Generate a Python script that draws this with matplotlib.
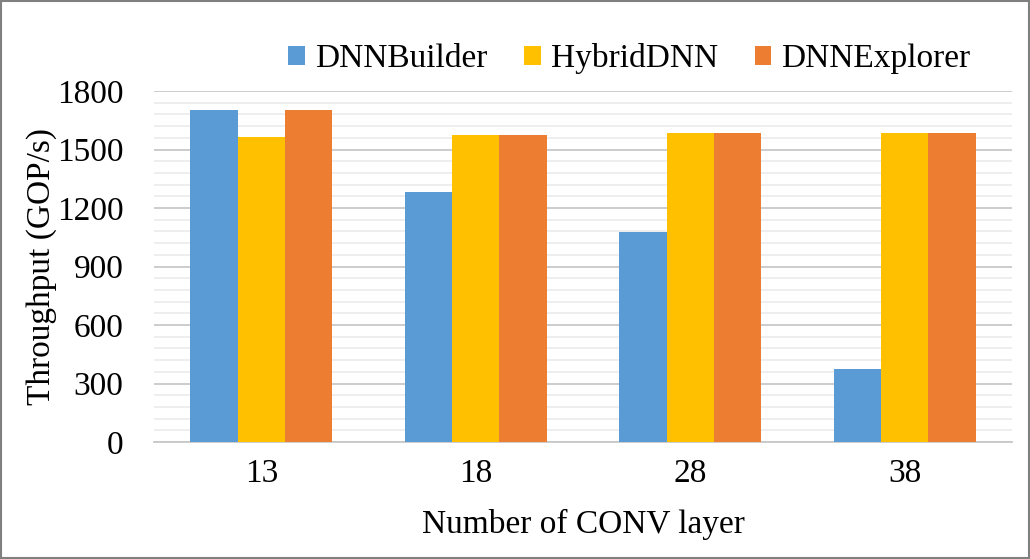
import numpy as np
import matplotlib.pyplot as plt
from matplotlib.ticker import MultipleLocator

layers = ['13', '18', '28', '38']
dnnbuilder = [1703, 1284, 1077, 374]
hybriddnn = [1564, 1574, 1585, 1585]
dnnexplorer = [1703, 1574, 1585, 1585]

plt.rcParams['font.family'] = ['Liberation Serif', 'DejaVu Serif']

fig = plt.figure(figsize=(10.3, 5.59), dpi=100)
ax = fig.add_axes([154/1030, 1 - 442/559, (1012-154)/1030, (442-91)/559])

x = np.arange(len(layers))
w = 0.22
ax.bar(x - w, dnnbuilder, w, color='#5B9BD5', label='DNNBuilder', zorder=3)
ax.bar(x, hybriddnn, w, color='#FFC000', label='HybridDNN', zorder=3)
ax.bar(x + w, dnnexplorer, w, color='#ED7D31', label='DNNExplorer', zorder=3)

ax.set_xlim(-0.5, 3.5)
ax.set_ylim(0, 1800)
ax.yaxis.set_major_locator(MultipleLocator(300))
ax.yaxis.set_minor_locator(MultipleLocator(60))
ax.grid(axis='y', which='major', color='#C8C8C8', linewidth=1.3, zorder=0)
ax.grid(axis='y', which='minor', color='#EDEDED', linewidth=1.3, zorder=0)
ax.set_xticks(x)
ax.set_xticklabels(layers)
ax.tick_params(axis='both', which='both', length=0, labelsize=24)
ax.tick_params(axis='y', pad=22)
ax.tick_params(axis='x', pad=12)
for s in ['top', 'right', 'left']:
    ax.spines[s].set_visible(False)
ax.spines['bottom'].set_color('#C8C8C8')
ax.spines['bottom'].set_linewidth(1.3)

ax.set_xlabel('Number of CONV layer', fontsize=24, labelpad=14)
ax.set_ylabel('Throughput (GOP/s)', fontsize=24, labelpad=0)

ax.legend(loc='lower right', bbox_to_anchor=(0.967, 1.01), ncol=3, frameon=False,
          fontsize=24, handlelength=0.5, handleheight=0.5, handletextpad=0.3,
          columnspacing=1.1, borderaxespad=0)

fig.patches.append(plt.Rectangle((0.001, 0.001), 0.998, 0.997, transform=fig.transFigure,
                                 fill=False, edgecolor='#808080', linewidth=1.5))

fig.savefig('out.png', dpi=100)
